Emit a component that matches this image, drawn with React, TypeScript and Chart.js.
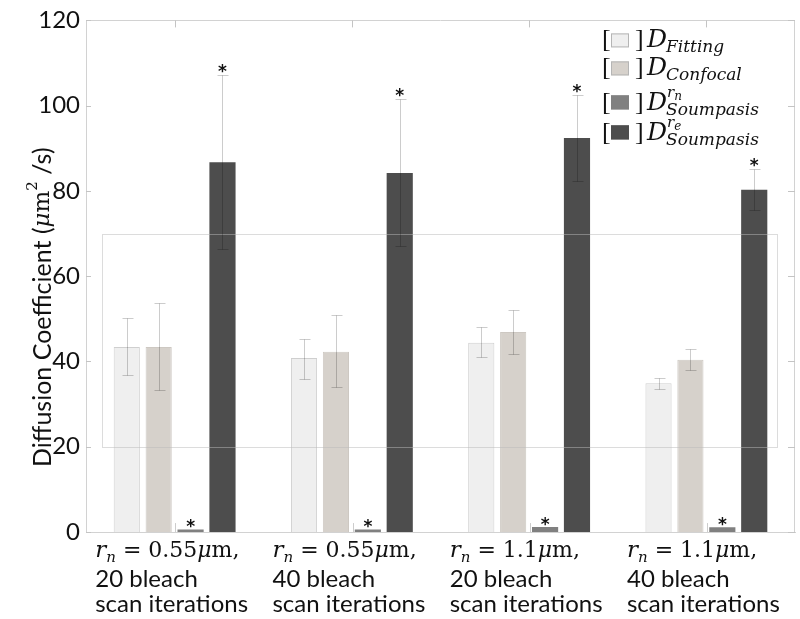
import React, { useEffect, useRef } from 'react';
import { Chart, registerables } from 'chart.js';

Chart.register(...registerables);

// ---- data ----
const categories = ['g1', 'g2', 'g3', 'g4'];
const radiusValues = ['0.55', '0.55', '1.1', '1.1'];
const bleachLines = ['20 bleach', '40 bleach', '20 bleach', '40 bleach'];
const scanLine = 'scan iterations';

const fitting = [43.4, 40.8, 44.4, 34.9];
const fittingLow = [36.8, 35.9, 41.0, 33.6];
const fittingHigh = [50.1, 45.3, 48.1, 36.2];

const confocal = [43.4, 42.3, 46.9, 40.4];
const confocalLow = [33.3, 34.0, 41.7, 37.9];
const confocalHigh = [53.6, 50.8, 52.0, 43.0];

const soumpasisRn = [0.6, 0.6, 1.2, 1.1];
const soumpasisRnHigh = [2.1, 2.1, 2.1, 2.1];

const soumpasisRe = [86.7, 84.2, 92.4, 80.3];
const soumpasisReLow = [66.4, 67.1, 82.3, 75.5];
const soumpasisReHigh = [107.3, 101.5, 102.4, 85.2];

const yTickValues = [0, 20, 40, 60, 80, 100, 120];
const boxRange = [20, 70];

const legendSubs = ['Fitting', 'Confocal', 'Soumpasis', 'Soumpasis'];
const legendSups = ['', '', 'rn', 're'];

const colors = ['#efefef', '#d6d1cb', '#808080', '#4d4d4d'];
const borders = ['#cfcfcf', '#cdc8c2', '#808080', '#4d4d4d'];

const SANS = 'Lato, "Open Sans", sans-serif';
const SERIF = '"DejaVu Serif", serif';

const overlay = {
  id: 'overlay',
  afterDatasetsDraw(chart: any) {
    const { ctx, chartArea: ca, scales } = chart;
    const x = scales.x;
    const y = scales.y;
    ctx.save();

    // faint rectangle
    ctx.strokeStyle = 'rgba(185,185,185,0.5)';
    ctx.lineWidth = 1;
    const rt = Math.round(y.getPixelForValue(boxRange[1])) + 0.5;
    const rb = Math.round(y.getPixelForValue(boxRange[0])) + 0.5;
    ctx.strokeRect(Math.round(ca.left + 16) + 0.5, rt, Math.round(ca.right - 18 - (ca.left + 16)), rb - rt);

    // frame top/right
    ctx.strokeStyle = '#d2d2d2';
    ctx.beginPath();
    ctx.moveTo(ca.left, Math.round(ca.top) + 0.5);
    ctx.lineTo(ca.right, Math.round(ca.top) + 0.5);
    ctx.moveTo(Math.round(ca.right) - 0.5, ca.top);
    ctx.lineTo(Math.round(ca.right) - 0.5, ca.bottom);
    ctx.stroke();
    // inward ticks
    ctx.strokeStyle = '#c4c4c4';
    ctx.beginPath();
    yTickValues.forEach((v) => {
      const py = Math.round(y.getPixelForValue(v)) + 0.5;
      ctx.moveTo(ca.left, py); ctx.lineTo(ca.left + 5, py);
      ctx.moveTo(ca.right - 7, py); ctx.lineTo(ca.right, py);
    });
    categories.forEach((_, i) => {
      const px = Math.round(x.getPixelForValue(i)) + 0.5;
      ctx.moveTo(px, ca.top); ctx.lineTo(px, ca.top + 7);
    });
    ctx.stroke();

    // error bars
    const errSets = [
      { low: fittingLow, high: fittingHigh },
      { low: confocalLow, high: confocalHigh },
      null,
      { low: soumpasisReLow, high: soumpasisReHigh },
    ];
    ctx.strokeStyle = 'rgba(0,0,0,0.2)';
    ctx.lineWidth = 1;
    errSets.forEach((es, di) => {
      if (!es) return;
      const meta = chart.getDatasetMeta(di);
      meta.data.forEach((bar: any, j: number) => {
        const bx = Math.round(bar.x) + 0.5;
        const yl = Math.round(y.getPixelForValue(es.low[j])) + 0.5;
        const yh = Math.round(y.getPixelForValue(es.high[j])) + 0.5;
        ctx.beginPath();
        ctx.moveTo(bx, yl); ctx.lineTo(bx, yh);
        ctx.moveTo(bx - 5, yl); ctx.lineTo(bx + 6, yl);
        ctx.moveTo(bx - 5, yh); ctx.lineTo(bx + 6, yh);
        ctx.stroke();
      });
    });
    // tiny rn error line (at left side of bar)
    const rnMeta = chart.getDatasetMeta(2);
    rnMeta.data.forEach((bar: any, j: number) => {
      const bx = Math.round(bar.x - bar.width / 2) - 1.5;
      ctx.beginPath();
      ctx.moveTo(bx, y.getPixelForValue(0));
      ctx.lineTo(bx, y.getPixelForValue(soumpasisRnHigh[j]));
      ctx.stroke();
    });

    // asterisks
    ctx.fillStyle = '#111';
    ctx.font = `bold 17px "DejaVu Sans", sans-serif`;
    ctx.textAlign = 'center';
    ctx.textBaseline = 'alphabetic';
    rnMeta.data.forEach((bar: any, j: number) => {
      const top = y.getPixelForValue(soumpasisRn[j]);
      ctx.fillText('*', bar.x, top + 3);
    });
    const reMeta = chart.getDatasetMeta(3);
    reMeta.data.forEach((bar: any, j: number) => {
      const top = y.getPixelForValue(soumpasisReHigh[j]);
      ctx.fillText('*', bar.x, top + 2);
    });

    // legend
    const lx = ca.right - 193;
    const boxCenters = [20, 48, 82, 112];
    const baselines = [27, 55, 90, 120];
    legendSubs.forEach((sub, i) => {
      const cy = ca.top + boxCenters[i];
      const by = ca.top + baselines[i];
      ctx.fillStyle = '#111';
      ctx.textAlign = 'left';
      ctx.font = `26px "Liberation Serif", serif`;
      ctx.fillText('[', lx, by);
      ctx.fillText(']', lx + 33, by);
      ctx.fillStyle = colors[i];
      ctx.fillRect(lx + 9, cy - 7, 18, 14);
      ctx.strokeStyle = i < 2 ? '#b5b5b5' : colors[i];
      ctx.strokeRect(lx + 9.5, cy - 6.5, 17, 13);
      ctx.fillStyle = '#111';
      ctx.font = `italic 25px ${SERIF}`;
      ctx.fillText('D', lx + 45, by);
      ctx.font = `italic 17px ${SERIF}`;
      ctx.fillText(sub, lx + 64, by + 5);
      if (legendSups[i]) {
        ctx.font = `italic 15px ${SERIF}`;
        ctx.fillText(legendSups[i][0], lx + 65, by - 13);
        const w = ctx.measureText(legendSups[i][0]).width;
        ctx.font = `italic 12px ${SERIF}`;
        ctx.fillText(legendSups[i][1], lx + 65 + w, by - 10);
      }
    });

    // x labels
    const line1Base = ca.bottom + 25;
    const line2Base = ca.bottom + 55;
    const line3Base = ca.bottom + 80;
    categories.forEach((_, i) => {
      const cx = x.getPixelForValue(i);
      ctx.font = `24px ${SANS}`;
      const w3 = ctx.measureText(scanLine).width;
      const left = cx - w3 / 2 - 3;
      ctx.fillStyle = '#111';
      ctx.textAlign = 'left';
      ctx.fillText(bleachLines[i], left, line2Base);
      ctx.fillText(scanLine, left, line3Base);
      // math line
      let px = left;
      ctx.font = `italic 23px ${SERIF}`;
      ctx.fillText('r', px, line1Base);
      px += ctx.measureText('r').width;
      ctx.font = `italic 15px ${SERIF}`;
      ctx.fillText('n', px, line1Base + 5);
      px += ctx.measureText('n').width;
      ctx.font = `22px ${SERIF}`;
      const t1 = ' = ' + radiusValues[i];
      ctx.fillText(t1, px, line1Base);
      px += ctx.measureText(t1).width;
      ctx.font = `italic 22px ${SERIF}`;
      ctx.fillText('μ', px, line1Base);
      px += ctx.measureText('μ').width;
      ctx.font = `22px ${SERIF}`;
      ctx.fillText('m,', px, line1Base);
    });

    // y title
    ctx.save();
    ctx.translate(35, (ca.top + ca.bottom) / 2 + 31);
    ctx.rotate(-Math.PI / 2);
    const segs: [string, string, number][] = [
      ['Diffusion Coefficient (', `25px ${SANS}`, 0],
      ['μ', `italic 23px ${SERIF}`, 0],
      ['m', `23px ${SERIF}`, 0],
      ['2', `15px ${SERIF}`, -10],
      [' /s)', `25px ${SANS}`, 0],
    ];
    let total = 0;
    segs.forEach(([t, f]) => { ctx.font = f; total += ctx.measureText(t).width; });
    let sx = -total / 2;
    ctx.textAlign = 'left';
    ctx.textBaseline = 'middle';
    ctx.fillStyle = '#111';
    segs.forEach(([t, f, dy]) => {
      ctx.font = f;
      ctx.fillText(t, sx, 8 + dy);
      sx += ctx.measureText(t).width;
    });
    ctx.restore();

    ctx.restore();
  },
};

export default function App() {
  const ref = useRef<HTMLCanvasElement | null>(null);
  useEffect(() => {
    if (!ref.current) return;
    const dataArrays = [fitting, confocal, soumpasisRn, soumpasisRe];
    const names = ['Fitting', 'Confocal', 'Soumpasis rn', 'Soumpasis re'];
    const chart = new Chart(ref.current, {
      type: 'bar',
      data: {
        labels: categories,
        datasets: dataArrays.map((d, i) => ({
          label: names[i],
          data: d,
          backgroundColor: colors[i],
          borderColor: borders[i],
          borderWidth: i < 2 ? 1 : 0,
          categoryPercentage: 0.72,
          barPercentage: 0.82,
        })),
      },
      options: {
        responsive: false,
        animation: false,
        layout: { padding: { top: 17, right: 5, left: 0, bottom: 0 } },
        plugins: { legend: { display: false }, tooltip: { enabled: false } },
        scales: {
          x: {
            grid: { display: false, drawTicks: false },
            border: { color: '#d2d2d2' },
            ticks: { display: false },
            afterFit: (s: any) => { s.height = 87; },
          },
          y: {
            min: 0,
            max: 120,
            ticks: {
              stepSize: 20,
              padding: 6,
              color: '#111',
              font: { family: SANS, size: 24 },
            },
            grid: { display: false, drawTicks: false },
            border: { color: '#d2d2d2' },
            afterFit: (s: any) => { s.width = 86; },
          },
        },
      },
      plugins: [overlay],
    });
    return () => chart.destroy();
  }, []);
  return (
    <div style={{ position: 'fixed', left: 0, top: 0, width: 800, height: 619, background: '#fff' }}>
      <canvas ref={ref} width={800} height={619} />
    </div>
  );
}
